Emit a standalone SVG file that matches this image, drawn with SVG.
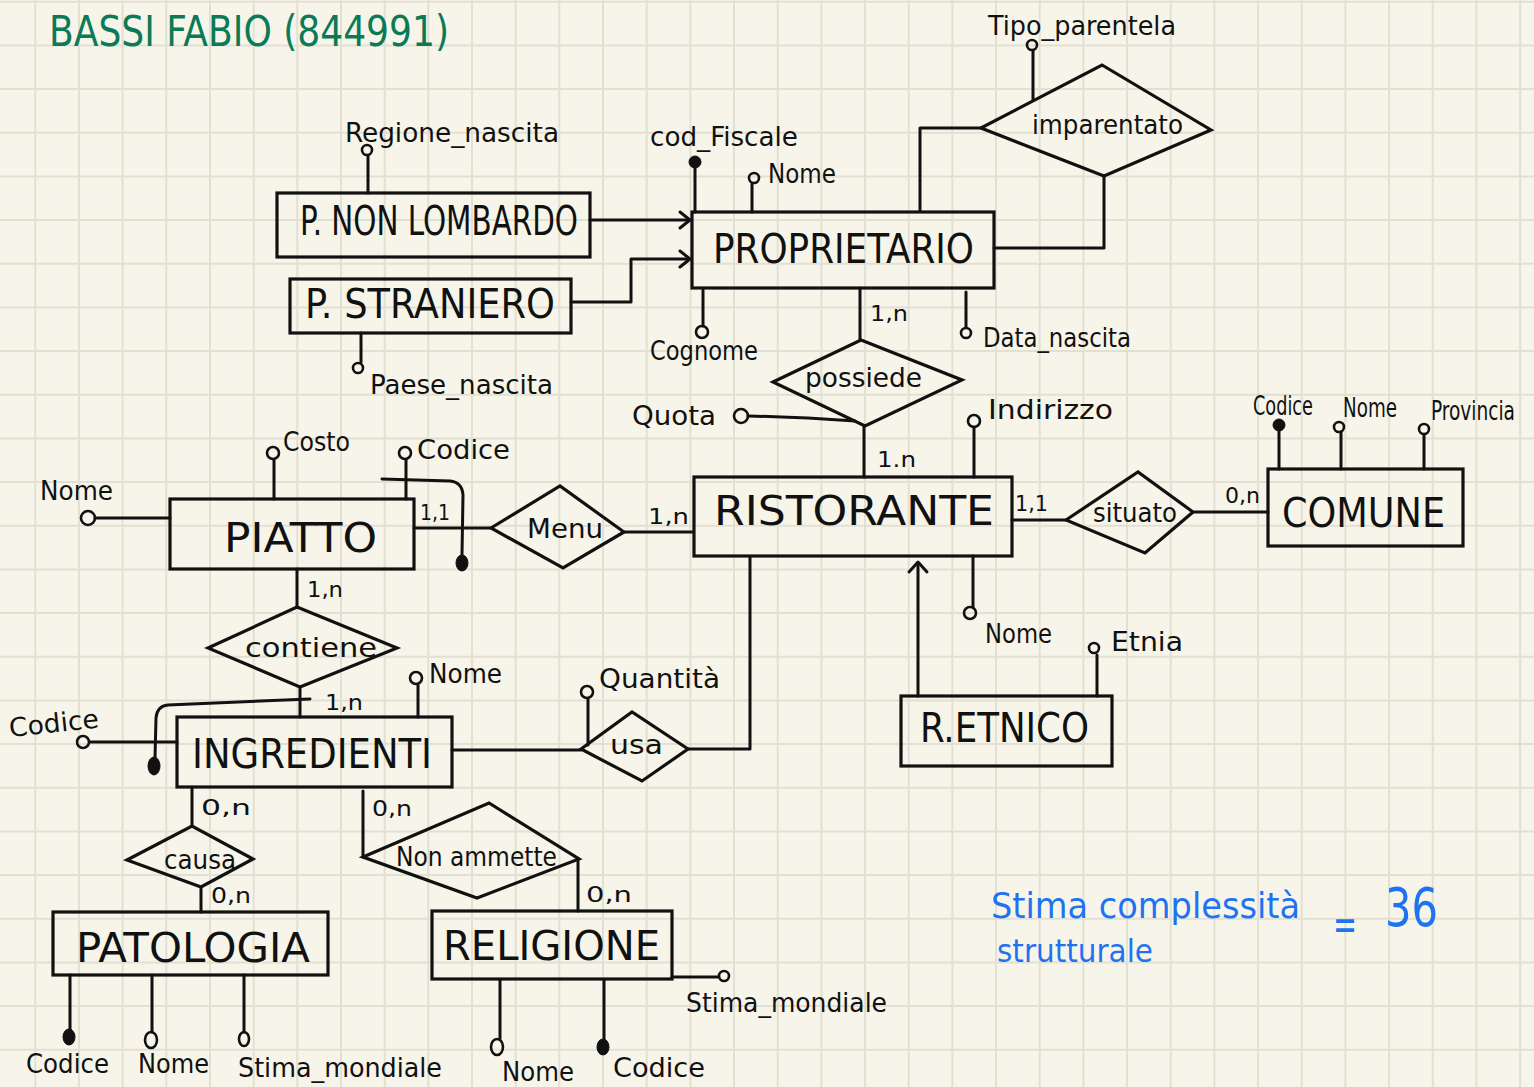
<svg xmlns="http://www.w3.org/2000/svg" width="1534" height="1087" viewBox="0 0 1534 1087">
<defs>
<style>
.grid{stroke:#e2e0d3;stroke-width:2;fill:none}
.box{fill:none;stroke:#111;stroke-width:3.2}
.ln{fill:none;stroke:#111;stroke-width:3;stroke-linecap:round;stroke-linejoin:round}
.oc{fill:none;stroke:#111;stroke-width:2.6}
.fc{fill:#111;stroke:#111;stroke-width:1}
text{font-family:"DejaVu Sans Condensed","Liberation Sans",sans-serif;fill:#111}
.ent{font-size:40px}
.att{font-size:26px}
.card{font-size:21px}
.rel{font-size:27px}
.green{fill:#0b7a56}
.blue{fill:#1f72f2}
</style>
</defs>
<rect width="1534" height="1087" fill="#f7f5e9"/>
<path class="grid" d="M35.3 0V1087M79 0V1087M122.6 0V1087M166.3 0V1087M210 0V1087M253.7 0V1087M297.3 0V1087M341 0V1087M384.7 0V1087M428.3 0V1087M472 0V1087M515.7 0V1087M559.3 0V1087M603 0V1087M646.7 0V1087M690.4 0V1087M734 0V1087M777.7 0V1087M821.4 0V1087M865 0V1087M908.7 0V1087M952.4 0V1087M996 0V1087M1039.7 0V1087M1083.4 0V1087M1127.1 0V1087M1170.7 0V1087M1214.4 0V1087M1258.1 0V1087M1301.7 0V1087M1345.4 0V1087M1389.1 0V1087M1432.7 0V1087M1476.4 0V1087M1520.1 0V1087M0 1.7H1534M0 45.4H1534M0 89H1534M0 132.7H1534M0 176.4H1534M0 220H1534M0 263.7H1534M0 307.4H1534M0 351.1H1534M0 394.7H1534M0 438.4H1534M0 482.1H1534M0 525.7H1534M0 569.4H1534M0 613.1H1534M0 656.7H1534M0 700.4H1534M0 744.1H1534M0 787.7H1534M0 831.4H1534M0 875.1H1534M0 918.8H1534M0 962.4H1534M0 1006.1H1534M0 1049.8H1534"/>

<g id="title">
<text class="green" x="49" y="46" font-size="42" textLength="400" lengthAdjust="spacingAndGlyphs">BASSI FABIO (844991)</text>
</g>

<g id="connectors">
<path class="ln" d="M590 220H689"/>
<path class="ln" d="M680 212L690 220L680 228"/>
<path class="ln" d="M571 302H631V259H689"/>
<path class="ln" d="M680 251L690 259L680 267"/>
<path class="ln" d="M920 211V128H981"/>
<path class="ln" d="M994 248H1104V176"/>
<path class="ln" d="M860 288V340"/>
<path class="ln" d="M864 426V477"/>
<path class="ln" d="M1012 520H1066"/>
<path class="ln" d="M1193 512H1268"/>
<path class="ln" d="M918 696V563"/>
<path class="ln" d="M909 572L918 562L927 572"/>
<path class="ln" d="M624 532H693"/>
<path class="ln" d="M414 528H491"/>
<path class="ln" d="M297 569V607"/>
<path class="ln" d="M300 687V717"/>
<path class="ln" d="M452 750H581"/>
<path class="ln" d="M688 749H750V557"/>
<path class="ln" d="M192 787V826"/>
<path class="ln" d="M201 887V912"/>
<path class="ln" d="M363 791V857"/>
<path class="ln" d="M578 859V911"/>
<text class="card" x="870" y="321" textLength="38" lengthAdjust="spacingAndGlyphs">1,n</text>
<text class="card" x="877" y="467" textLength="39" lengthAdjust="spacingAndGlyphs">1.n</text>
<text class="card" x="648" y="524" textLength="41" lengthAdjust="spacingAndGlyphs">1,n</text>
<text class="card" x="1015" y="511" font-size="19" textLength="33" lengthAdjust="spacingAndGlyphs">1,1</text>
<text class="card" x="1225" y="503" textLength="35" lengthAdjust="spacingAndGlyphs">0,n</text>
<text class="card" x="420" y="520" font-size="19" textLength="30" lengthAdjust="spacingAndGlyphs">1,1</text>
<text class="card" x="307" y="597" font-size="19" textLength="36" lengthAdjust="spacingAndGlyphs">1,n</text>
<text class="card" x="325" y="710" font-size="19" textLength="38" lengthAdjust="spacingAndGlyphs">1,n</text>
<text class="card" x="201" y="815" font-size="24" textLength="50" lengthAdjust="spacingAndGlyphs">0,n</text>
<text class="card" x="211" y="903" textLength="40" lengthAdjust="spacingAndGlyphs">0,n</text>
<text class="card" x="372" y="816" textLength="40" lengthAdjust="spacingAndGlyphs">0,n</text>
<text class="card" x="586" y="902" textLength="46" lengthAdjust="spacingAndGlyphs">0,n</text>
</g>

<g id="p-non-lombardo">
<rect class="box" x="277" y="193" width="313" height="64"/>
<text class="ent" x="300" y="235" font-size="38" textLength="278" lengthAdjust="spacingAndGlyphs">P. NON LOMBARDO</text>
</g>
<g id="attr-regione-nascita">
<path class="ln" d="M368 193V156"/>
<circle class="oc" cx="367" cy="150" r="5"/>
<text class="att" x="345" y="142" font-size="28" textLength="214" lengthAdjust="spacingAndGlyphs">Regione_nascita</text>
</g>

<g id="p-straniero">
<rect class="box" x="290" y="279" width="281" height="54"/>
<text class="ent" x="305" y="318" font-size="34" textLength="250" lengthAdjust="spacingAndGlyphs">P. STRANIERO</text>
</g>
<g id="attr-paese-nascita">
<path class="ln" d="M361 333V362"/>
<circle class="oc" cx="358" cy="368" r="5"/>
<text class="att" x="370" y="394" textLength="183" lengthAdjust="spacingAndGlyphs">Paese_nascita</text>
</g>

<g id="proprietario">
<rect class="box" x="692" y="212" width="302" height="76"/>
<text class="ent" x="713" y="263" font-size="36" textLength="261" lengthAdjust="spacingAndGlyphs">PROPRIETARIO</text>
</g>
<g id="attr-cod-fiscale">
<path class="ln" d="M695 212V164"/>
<circle class="fc" cx="695" cy="162" r="6"/>
<text class="att" x="650" y="146" font-size="27" textLength="148" lengthAdjust="spacingAndGlyphs">cod_Fiscale</text>
</g>
<g id="attr-prop-nome">
<path class="ln" d="M752 212V184"/>
<circle class="oc" cx="754" cy="178" r="5"/>
<text class="att" x="768" y="183" font-size="24" textLength="68" lengthAdjust="spacingAndGlyphs">Nome</text>
</g>
<g id="attr-cognome">
<path class="ln" d="M703 290V326"/>
<circle class="oc" cx="702" cy="332" r="6"/>
<text class="att" x="650" y="360" font-size="25" textLength="108" lengthAdjust="spacingAndGlyphs">Cognome</text>
</g>
<g id="attr-data-nascita">
<path class="ln" d="M966 292V327"/>
<circle class="oc" cx="966" cy="333" r="5"/>
<text class="att" x="983" y="347" font-size="25" textLength="148" lengthAdjust="spacingAndGlyphs">Data_nascita</text>
</g>

<g id="imparentato">
<polygon class="box" points="981,128 1102,65 1211,130 1104,176"/>
<text class="rel" x="1032" y="134" font-size="26" textLength="151" lengthAdjust="spacingAndGlyphs">imparentato</text>
</g>
<g id="attr-tipo-parentela">
<path class="ln" d="M1033 100V51"/>
<circle class="oc" cx="1032" cy="45" r="5"/>
<text class="att" x="988" y="35" font-size="28" textLength="188" lengthAdjust="spacingAndGlyphs">Tipo_parentela</text>
</g>

<g id="possiede">
<polygon class="box" points="773,382 861,340 962,380 865,426"/>
<text class="rel" x="805" y="387" font-size="28" textLength="117" lengthAdjust="spacingAndGlyphs">possiede</text>
</g>
<g id="attr-quota">
<path class="ln" d="M748 416Q800 417 855 421"/>
<circle class="oc" cx="741" cy="416" r="7"/>
<text class="att" x="632" y="425" textLength="84" lengthAdjust="spacingAndGlyphs">Quota</text>
</g>

<g id="ristorante">
<rect class="box" x="694" y="477" width="318" height="79"/>
<text class="ent" x="714" y="525" font-size="48" textLength="280" lengthAdjust="spacingAndGlyphs">RISTORANTE</text>
</g>
<g id="attr-indirizzo">
<path class="ln" d="M974 477V427"/>
<circle class="oc" cx="974" cy="421" r="6"/>
<text class="att" x="988" y="419" textLength="125" lengthAdjust="spacingAndGlyphs">Indirizzo</text>
</g>
<g id="attr-rist-nome">
<path class="ln" d="M973 556V607"/>
<circle class="oc" cx="970" cy="613" r="6"/>
<text class="att" x="985" y="643" font-size="28" textLength="67" lengthAdjust="spacingAndGlyphs">Nome</text>
</g>

<g id="situato">
<polygon class="box" points="1066,520 1138,472 1193,512 1145,553"/>
<text class="rel" x="1093" y="522" font-size="26" textLength="84" lengthAdjust="spacingAndGlyphs">situato</text>
</g>

<g id="comune">
<rect class="box" x="1268" y="469" width="195" height="77"/>
<text class="ent" x="1282" y="527" font-size="44" textLength="163" lengthAdjust="spacingAndGlyphs">COMUNE</text>
</g>
<g id="attr-comune-codice">
<path class="ln" d="M1279 469V430"/>
<circle class="fc" cx="1279" cy="425" r="6"/>
<text class="att" x="1253" y="415" font-size="20" textLength="60" lengthAdjust="spacingAndGlyphs">Codice</text>
</g>
<g id="attr-comune-nome">
<path class="ln" d="M1341 469V432"/>
<circle class="oc" cx="1339" cy="427" r="5"/>
<text class="att" x="1343" y="417" font-size="21" textLength="54" lengthAdjust="spacingAndGlyphs">Nome</text>
</g>
<g id="attr-provincia">
<path class="ln" d="M1424 469V435"/>
<circle class="oc" cx="1424" cy="429" r="5"/>
<text class="att" x="1431" y="420" font-size="20" textLength="84" lengthAdjust="spacingAndGlyphs">Provincia</text>
</g>

<g id="r-etnico">
<rect class="box" x="901" y="696" width="211" height="70"/>
<text class="ent" x="920" y="742" textLength="169" lengthAdjust="spacingAndGlyphs">R.ETNICO</text>
</g>
<g id="attr-etnia">
<path class="ln" d="M1097 696V655"/>
<circle class="oc" cx="1094" cy="648" r="5"/>
<text class="att" x="1111" y="651" textLength="72" lengthAdjust="spacingAndGlyphs">Etnia</text>
</g>

<g id="piatto">
<rect class="box" x="170" y="499" width="244" height="70"/>
<text class="ent" x="224" y="552" font-size="46" textLength="153" lengthAdjust="spacingAndGlyphs">PIATTO</text>
</g>
<g id="attr-piatto-nome">
<path class="ln" d="M95 518H170"/>
<circle class="oc" cx="88" cy="518" r="7"/>
<text class="att" x="40" y="500" textLength="73" lengthAdjust="spacingAndGlyphs">Nome</text>
</g>
<g id="attr-costo">
<path class="ln" d="M274 499V460"/>
<circle class="oc" cx="273" cy="453" r="6"/>
<text class="att" x="283" y="451" font-size="24" textLength="67" lengthAdjust="spacingAndGlyphs">Costo</text>
</g>
<g id="attr-piatto-codice">
<path class="ln" d="M406 499V460"/>
<circle class="oc" cx="405" cy="453" r="6"/>
<text class="att" x="417" y="459" font-size="28" textLength="93" lengthAdjust="spacingAndGlyphs">Codice</text>
<path class="ln" d="M382 479L450 481Q462 482 463 495L462 555"/>
<ellipse class="fc" cx="462" cy="563" rx="6" ry="8"/>
</g>

<g id="menu">
<polygon class="box" points="491,528 560,486 624,532 563,568"/>
<text class="rel" x="527" y="538" font-size="28" textLength="76" lengthAdjust="spacingAndGlyphs">Menu</text>
</g>

<g id="contiene">
<polygon class="box" points="208,648 297,607 397,648 300,687"/>
<text class="rel" x="245" y="657" font-size="32" textLength="132" lengthAdjust="spacingAndGlyphs">contiene</text>
</g>

<g id="ingredienti">
<rect class="box" x="177" y="717" width="275" height="70"/>
<text class="ent" x="192" y="768" font-size="46" textLength="240" lengthAdjust="spacingAndGlyphs">INGREDIENTI</text>
</g>
<g id="attr-ingr-nome">
<path class="ln" d="M418 717V685"/>
<circle class="oc" cx="416" cy="678" r="6"/>
<text class="att" x="429" y="683" textLength="73" lengthAdjust="spacingAndGlyphs">Nome</text>
</g>
<g id="attr-ingr-codice">
<path class="ln" d="M90 742H177"/>
<circle class="oc" cx="83" cy="742" r="6"/>
<text class="att" x="10" y="737" font-size="28" textLength="90" lengthAdjust="spacingAndGlyphs" transform="rotate(-6 10 737)">Codice</text>
<path class="ln" d="M310 699L168 705Q157 706 156 718L155 758"/>
<ellipse class="fc" cx="154" cy="766" rx="6" ry="9"/>
</g>

<g id="usa">
<polygon class="box" points="581,749 632,712 688,749 642,781"/>
<text class="rel" x="610" y="754" font-size="28" textLength="53" lengthAdjust="spacingAndGlyphs">usa</text>
</g>
<g id="attr-quantita">
<path class="ln" d="M588 745V699"/>
<circle class="oc" cx="587" cy="692" r="6"/>
<text class="att" x="599" y="688" font-size="25" textLength="121" lengthAdjust="spacingAndGlyphs">Quantità</text>
</g>

<g id="causa">
<polygon class="box" points="127,860 192,826 253,859 201,887"/>
<text class="rel" x="164" y="869" font-size="24" textLength="72" lengthAdjust="spacingAndGlyphs">causa</text>
</g>

<g id="non-ammette">
<polygon class="box" points="363,857 489,803 579,859 477,898"/>
<text class="rel" x="396" y="866" font-size="24" textLength="161" lengthAdjust="spacingAndGlyphs">Non ammette</text>
</g>

<g id="patologia">
<rect class="box" x="53" y="912" width="275" height="63"/>
<text class="ent" x="76" y="962" font-size="46" textLength="234" lengthAdjust="spacingAndGlyphs">PATOLOGIA</text>
</g>
<g id="attr-pat-codice">
<path class="ln" d="M70 975V1030"/>
<ellipse class="fc" cx="69" cy="1037" rx="6" ry="8"/>
<text class="att" x="26" y="1073" font-size="28" textLength="83" lengthAdjust="spacingAndGlyphs">Codice</text>
</g>
<g id="attr-pat-nome">
<path class="ln" d="M152 975V1032"/>
<ellipse class="oc" cx="151" cy="1040" rx="6" ry="8"/>
<text class="att" x="138" y="1073" font-size="28" textLength="71" lengthAdjust="spacingAndGlyphs">Nome</text>
</g>
<g id="attr-pat-stima">
<path class="ln" d="M244 975V1032"/>
<ellipse class="oc" cx="244" cy="1039" rx="5" ry="7"/>
<text class="att" x="238" y="1077" textLength="204" lengthAdjust="spacingAndGlyphs">Stima_mondiale</text>
</g>

<g id="religione">
<rect class="box" x="432" y="911" width="240" height="68"/>
<text class="ent" x="443" y="960" textLength="217" lengthAdjust="spacingAndGlyphs">RELIGIONE</text>
</g>
<g id="attr-rel-stima">
<path class="ln" d="M672 977H718"/>
<circle class="oc" cx="724" cy="976" r="5"/>
<text class="att" x="686" y="1012" textLength="201" lengthAdjust="spacingAndGlyphs">Stima_mondiale</text>
</g>
<g id="attr-rel-nome">
<path class="ln" d="M500 980V1039"/>
<ellipse class="oc" cx="497" cy="1047" rx="6" ry="8"/>
<text class="att" x="502" y="1081" textLength="72" lengthAdjust="spacingAndGlyphs">Nome</text>
</g>
<g id="attr-rel-codice">
<path class="ln" d="M604 980V1040"/>
<ellipse class="fc" cx="603" cy="1047" rx="6" ry="8"/>
<text class="att" x="613" y="1077" font-size="28" textLength="92" lengthAdjust="spacingAndGlyphs">Codice</text>
</g>

<g id="note">
<text class="blue" x="991" y="918" font-size="36" textLength="309" lengthAdjust="spacingAndGlyphs">Stima complessità</text>
<text class="blue" x="1333" y="940" font-size="44" textLength="24" lengthAdjust="spacingAndGlyphs">=</text>
<text class="blue" x="1385" y="926" font-size="53" textLength="53" lengthAdjust="spacingAndGlyphs">36</text>
<text class="blue" x="997" y="962" font-size="32" textLength="156" lengthAdjust="spacingAndGlyphs">strutturale</text>
</g>
</svg>
